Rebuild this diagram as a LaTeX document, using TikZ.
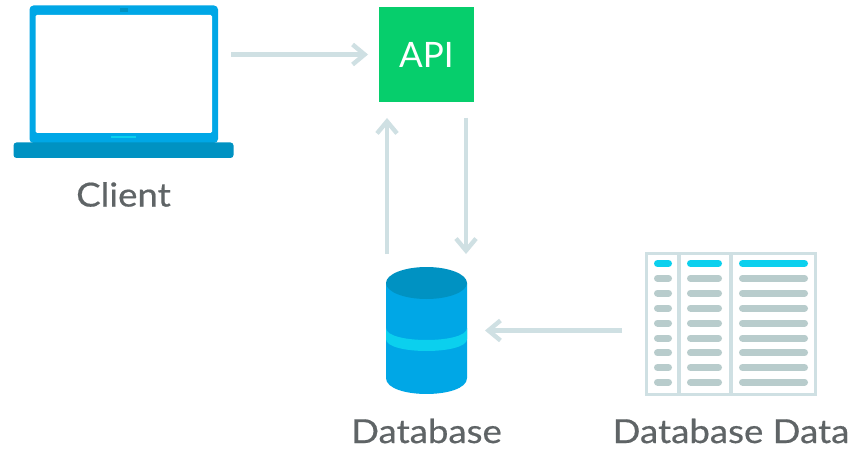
\documentclass[tikz,border=0pt]{standalone}
\usepackage{fontspec}
\setmainfont{Lato}
\newfontfamily\widefont[FakeStretch=1.11,FakeBold=0.5]{Lato}
\usetikzlibrary{arrows.meta,calc}
\definecolor{blueA}{HTML}{00A7E6}
\definecolor{blueB}{HTML}{0092C2}
\definecolor{cyanA}{HTML}{0BD0EE}
\definecolor{flowC}{HTML}{CFE0E3}
\definecolor{barC}{HTML}{B8CCCC}
\definecolor{greenA}{HTML}{06CE6C}
\definecolor{labelC}{HTML}{5F6466}
\tikzset{
  x=1pt,y=-1pt,
  flow/.style={draw=flowC,line width=4.4pt,-{Straight Barb[length=12pt,width=20pt,line width=4.4pt]}},
  lbl/.style={text=labelC,font=\widefont\fontsize{33}{36}\selectfont,inner sep=0pt},
  box/.style={inner sep=0pt,outer sep=0pt,minimum width=#1},
  frame/.style={draw=flowC,line width=3.8pt},
  bar/.style={line width=7pt,line cap=round,draw=barC},
  hbar/.style={line width=7pt,line cap=round,draw=cyanA}
}
\begin{document}
\begin{tikzpicture}
\useasboundingbox (0,0) rectangle (856,449);
\fill[white] (0,0) rectangle (856,449);
% nodes (extents of icons)
\node[box=188.5pt,minimum height=138pt] (client) at (123.75,74) {};
\node[box=95pt,minimum height=95pt,fill=greenA,text=white,font=\fontsize{35}{38}\selectfont] (api) at (426.5,54.5) {API};
\node[box=81pt,minimum height=127pt] (db) at (426.5,330.5) {};
\node[box=172pt,minimum height=144pt] (data) at (731,324) {};
% laptop
\fill[blueA,rounded corners=4pt] (29.5,143) -- (29.5,5.5) -- (218,5.5) -- (218,143) -- cycle;
\fill[white,rounded corners=1.5pt] (35.5,15) rectangle (212,133);
\fill[blueB] (119.5,8.5) rectangle (127.5,12);
\draw[cyanA,line width=2pt] (111,137.5) -- (136,137.5);
\fill[blueB,rounded corners=3pt] (13.5,142.5) rectangle (233.5,158);
% database
\fill[blueA] (386,283) -- (386,378) .. controls (386,399.3) and (467,399.3) .. (467,378) -- (467,283) -- cycle;
\fill[cyanA] (386,328) .. controls (386,344) and (467,344) .. (467,328) -- (467,339) .. controls (467,355) and (386,355) .. (386,339) -- cycle;
\fill[blueB] (426.5,283) ellipse[x radius=40.5,y radius=16];
% table
\draw[frame] (646.5,253.5) rectangle (815.5,394.5);
\draw[frame] (679,253.5) -- (679,394.5);
\draw[frame] (731,253.5) -- (731,394.5);
\foreach \yy [count=\i] in {263.5,278.3,293,308,323,338,352.8,367.5,382}{
  \ifnum\i=1 \def\st{hbar}\else\def\st{bar}\fi
  \draw[\st] (657.5,\yy) -- (668.5,\yy);
  \draw[\st] (690.5,\yy) -- (718.5,\yy);
  \draw[\st] (742.5,\yy) -- (804.5,\yy);
}
% labels
\node[lbl] (clientlabel) at (123.5,194.5) {Client};
\node[lbl] (dblabel) at (426.5,431) {Database};
\node[lbl] (datalabel) at (731,431) {Database Data};
% connectors
\draw[flow,shorten <=13pt,shorten >=11pt] (client.east |- api.west) -- (api.west);
\draw[flow,shorten <=13pt,shorten >=16pt] ([xshift=-39.5pt]api.south |- db.north) -- ([xshift=-39.5pt]api.south);
\draw[flow,shorten <=16pt,shorten >=13pt] ([xshift=39.5pt]api.south) -- ([xshift=39.5pt]api.south |- db.north);
\draw[flow,shorten <=23pt,shorten >=18pt] (data.west |- db.east) -- (db.east);
\end{tikzpicture}
\end{document}
